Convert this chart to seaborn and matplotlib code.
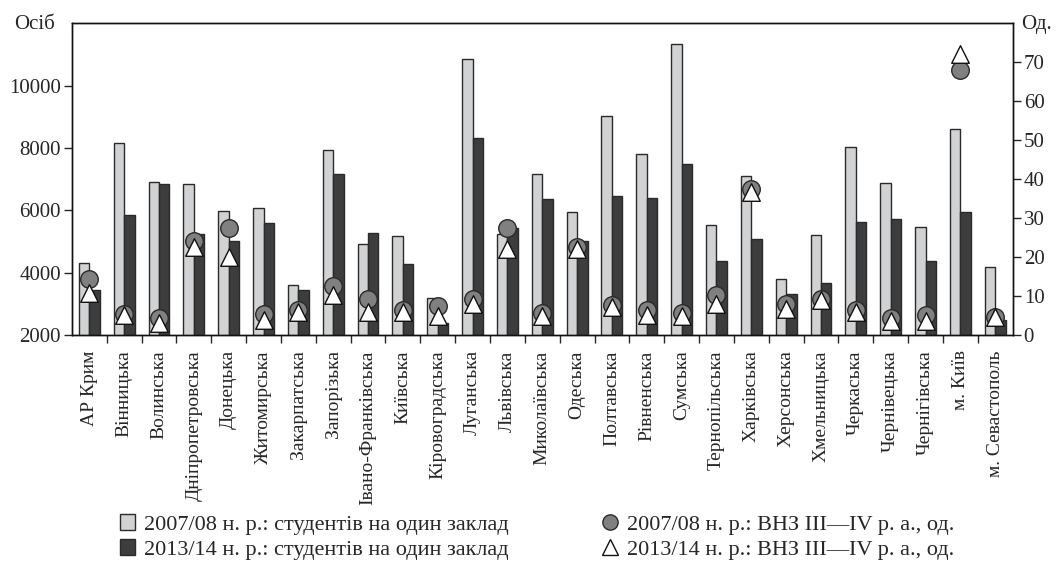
import numpy as np
import pandas as pd
import seaborn as sns
import matplotlib
matplotlib.use("Agg")
import matplotlib.pyplot as plt
from matplotlib.patches import Patch
from matplotlib.lines import Line2D

regions = ["АР Крим", "Вінницька", "Волинська", "Дніпропетровська", "Донецька",
           "Житомирська", "Закарпатська", "Запорізька", "Івано-Франківська", "Київська",
           "Кіровоградська", "Луганська", "Львівська", "Миколаївська", "Одеська",
           "Полтавська", "Рівненська", "Сумська", "Тернопільська", "Харківська",
           "Херсонська", "Хмельницька", "Черкаська", "Чернівецька", "Чернігівська",
           "м. Київ", "м. Севастополь"]

# students per institution (left axis)
students_2007 = [4320, 8170, 6910, 6840, 5980, 6070, 3600, 7940, 4910, 5180,
                 3180, 10850, 5230, 7150, 5950, 9010, 7810, 11340, 5530, 7100,
                 3790, 5220, 8040, 6870, 5480, 8610, 4190]
students_2013 = [3440, 5850, 6850, 5240, 5010, 5590, 3440, 7160, 5260, 4280,
                 2400, 8310, 5440, 6360, 5020, 6470, 6390, 7500, 4370, 5080,
                 3310, 3660, 5640, 5710, 4370, 5950, 2500]

# number of III-IV level institutions (right axis)
inst_2007 = [14.3, 5.3, 4.3, 24.2, 27.4, 5.3, 6.4, 12.6, 9.2, 6.4,
             7.4, 9.2, 27.4, 5.6, 22.6, 7.7, 6.4, 5.6, 10.3, 37.4,
             8.1, 9.2, 6.4, 4.3, 5.1, 67.9, 4.7]
inst_2013 = [10.8, 5.1, 3.0, 22.6, 20.0, 3.8, 6.0, 10.3, 6.0, 6.0,
             4.9, 7.9, 22.2, 4.9, 22.2, 7.3, 5.1, 4.9, 7.9, 36.8,
             6.8, 9.0, 6.0, 3.7, 3.7, 72.1, 4.7]

labels = ["2007/08 н. р.: студентів на один заклад",
          "2013/14 н. р.: студентів на один заклад",
          "2007/08 н. р.: ВНЗ III\u2014IV р. а., од.",
          "2013/14 н. р.: ВНЗ III\u2014IV р. а., од."]

light = "#d1d2d4"
dark = "#3d3d3d"
mid = "#808080"

sns.set_style("ticks")
plt.rcParams["font.family"] = ["Liberation Serif", "DejaVu Serif"]

df = pd.DataFrame({
    "region": regions * 2,
    "value": students_2007 + students_2013,
    "year": ["2007/08"] * len(regions) + ["2013/14"] * len(regions),
})

fig = plt.figure(figsize=(10.57, 5.67), dpi=100)
ax = fig.add_axes([0.068, 0.409, 0.890, 0.550])

sns.barplot(data=df, x="region", y="value", hue="year", palette=[light, dark],
            width=0.6, edgecolor="#2a2a2a", linewidth=1, legend=False, ax=ax)
ax.set_ylim(2000, 12000)
ax.set_xlim(-0.5, len(regions) - 0.5)
ax.set_yticks([2000, 4000, 6000, 8000, 10000])
ax.set_xlabel("")
ax.set_ylabel("")
ax.tick_params(axis="y", labelsize=15, length=6, width=1, direction="out", pad=2)
ax.set_xticks(np.arange(len(regions)))
ax.set_xticklabels(regions, rotation=90)
ax.tick_params(axis="x", which="major", length=0, labelsize=14, pad=11)
ax.set_xticks(np.arange(len(regions) - 1) + 0.5, minor=True)
ax.tick_params(axis="x", which="minor", length=6, width=1, direction="out")

ax2 = ax.twinx()
x = np.arange(len(regions))
sns.scatterplot(x=x, y=inst_2007, marker="o", s=160, color=mid, edgecolor="#2a2a2a",
                linewidth=1, ax=ax2, zorder=3)
sns.scatterplot(x=x, y=inst_2013, marker="^", s=160, color="white", edgecolor="#111111",
                linewidth=1, ax=ax2, zorder=4)
ax2.set_ylim(0, 80)
ax2.set_yticks(np.arange(0, 80, 10))
ax2.tick_params(axis="y", labelsize=15, length=6, width=1, direction="out", pad=2)

for a in (ax, ax2):
    for s in a.spines.values():
        s.set_visible(True)
        s.set_color("#111111")
        s.set_linewidth(1)

fig.text(0.013, 0.957, "Осіб", fontsize=15, va="center", ha="left")
fig.text(0.966, 0.957, "Од.", fontsize=15, va="center", ha="left")

handles = [
    Patch(facecolor=light, edgecolor="#2a2a2a", linewidth=1),
    Patch(facecolor=dark, edgecolor="#2a2a2a", linewidth=1),
    Line2D([], [], marker="o", linestyle="none", markersize=11, markerfacecolor=mid,
           markeredgecolor="#2a2a2a"),
    Line2D([], [], marker="^", linestyle="none", markersize=11, markerfacecolor="white",
           markeredgecolor="#111111"),
]
fig.legend(handles, labels, loc="center", bbox_to_anchor=(0.508, 0.053), ncol=2,
           frameon=False, fontsize=16, handlelength=0.7, handleheight=0.7,
           handletextpad=0.4, columnspacing=4.2, labelspacing=0.2)

fig.savefig("out.png", dpi=100)
